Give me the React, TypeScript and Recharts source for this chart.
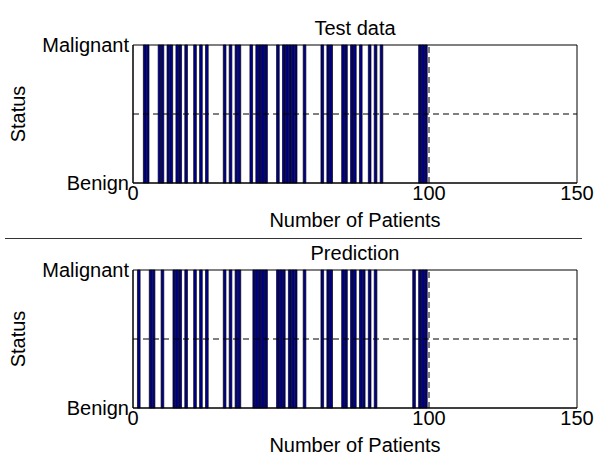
import {
    BarChart,
    Bar,
    XAxis,
    YAxis,
    ReferenceLine,
    ReferenceArea,
} from "recharts";

// patients whose status is Malignant (1); all others are Benign (0)
const patientCount = 100;
const testMalignant = [
    4, 5, 9, 10, 12, 13, 15, 16, 18, 21, 23, 25, 31, 33, 35, 36, 40, 42, 43, 44,
    45, 49, 51, 52, 53, 54, 55, 58, 64, 66, 67, 71, 72, 74, 75, 77, 80, 82, 84,
    97, 98, 99,
];
const predMalignant = [
    2, 6, 7, 10, 14, 15, 16, 18, 21, 23, 25, 31, 33, 35, 36, 41, 42, 43, 44, 45,
    49, 50, 51, 53, 54, 55, 58, 64, 66, 67, 71, 72, 74, 75, 77, 78, 80, 82, 95,
    97, 98, 99,
];
const xTicks = [0, 100, 150];
const yTicks = [0, 1];
const statusLabels = ["Benign", "Malignant"];

const buildRows = (malignant: number[]) =>
    Array.from({ length: patientCount }, (_, i) => ({
        patient: i + 1,
        status: malignant.includes(i + 1) ? 1 : 0,
    }));

const font = "'Liberation Sans', Arial, sans-serif";

const StatusPanel = ({ title, rows, top }: { title: string; rows: { patient: number; status: number }[]; top: number }) => {
    return (
        <div style={{ position: "absolute", left: 0, top }}>
            <BarChart
                width={597}
                height={231}
                data={rows}
                margin={{ top: 45, right: 20, bottom: 18, left: 0 }}
                style={{ fontFamily: font }}
            >
                <XAxis
                    dataKey="patient"
                    type="number"
                    domain={[0, 150]}
                    ticks={xTicks}
                    height={30}
                    tickLine={false}
                    tickSize={0}
                    tickMargin={3}
                    stroke="#000"
                    tick={{ fill: "#000", fontSize: 20 }}
                />
                <YAxis
                    type="number"
                    domain={[0, 1]}
                    ticks={yTicks}
                    width={133}
                    tickLine={false}
                    tickSize={2}
                    tickMargin={2}
                    stroke="#000"
                    tick={{ fill: "#000", fontSize: 20 }}
                    tickFormatter={(v: number) => statusLabels[v]}
                />
                <Bar
                    dataKey="status"
                    barSize={3}
                    fill="#00008f"
                    stroke="#000"
                    strokeWidth={0.7}
                    isAnimationActive={false}
                />
                <ReferenceLine y={0.5} stroke="#000" strokeDasharray="6 4" />
                <ReferenceLine x={100} stroke="#000" strokeDasharray="6 4" />
                <ReferenceArea x1={0} x2={150} y1={0} y2={1} fill="none" stroke="#000" strokeWidth={1} />
                <text x={355} y={35} textAnchor="middle" fontSize={20} fill="#000">
                    {title}
                </text>
                <text x={355} y={227} textAnchor="middle" fontSize={20} fill="#000">
                    Number of Patients
                </text>
                <text
                    x={18}
                    y={114}
                    textAnchor="middle"
                    dominantBaseline="central"
                    fontSize={20}
                    fill="#000"
                    transform="rotate(-90 18 114)"
                >
                    Status
                </text>
            </BarChart>
        </div>
    );
};

const App = () => {
    return (
        <div style={{ position: "absolute", left: 0, top: 0, width: 597, height: 456, background: "#fff", fontFamily: font }}>
            <StatusPanel title="Test data" rows={buildRows(testMalignant)} top={0} />
            <div style={{ position: "absolute", left: 5, top: 238, width: 577, height: 1, background: "#333" }} />
            <StatusPanel title="Prediction" rows={buildRows(predMalignant)} top={225} />
        </div>
    );
};

export default App;
